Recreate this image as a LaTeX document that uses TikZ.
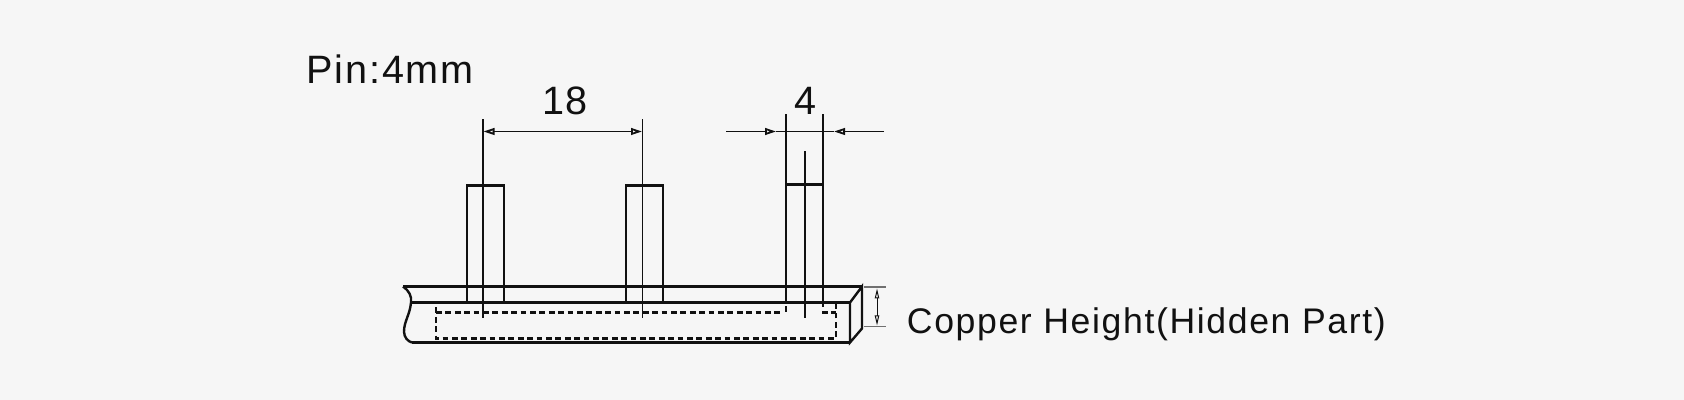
\documentclass[tikz,border=0pt]{standalone}
\usepackage{fontspec}
\setmainfont{Liberation Sans}
\newfontfamily\pinfont[LetterSpace=4.7]{Liberation Sans}
\newfontfamily\capfont[LetterSpace=4.6]{Liberation Sans}
\usetikzlibrary{arrows.meta}
\definecolor{bgc}{HTML}{F6F6F6}
\definecolor{ink}{HTML}{111111}
\tikzset{
  heavy/.style={draw=ink,line width=1.2pt},
  thin line/.style={draw=ink,line width=0.9pt},
  hidden/.style={draw=ink,line width=1.2pt,dash pattern=on 2.9pt off 1.8pt},
  faint/.style={draw=ink!60,line width=0.6pt},
  opentip/.style={-{Stealth[open,length=5.5pt,width=3.4pt,inset=0pt]}},
  bothtips/.style={{Stealth[open,length=5.5pt,width=3.4pt,inset=0pt]}-{Stealth[open,length=5.5pt,width=3.4pt,inset=0pt]}},
  smalltips/.style={{Stealth[open,length=5pt,width=2.2pt,inset=0pt]}-{Stealth[open,length=5pt,width=2.2pt,inset=0pt]}},
  label/.style={inner sep=0pt,anchor=base west,text=ink},
}
\begin{document}
\begin{tikzpicture}[x=0.5pt,y=-0.5pt]
\fill[bgc] (0,0) rectangle (1684,400);
\useasboundingbox (0,0) rectangle (1684,400);
\begin{scope}[shift={(0,0.5)}]
% labels
\node[label] (pin) at (306,83.5) {\fontsize{19.8pt}{24pt}\pinfont Pin:4mm};
\node[label,anchor=base] (d18) at (565,114.5) {\fontsize{19.8pt}{24pt}\selectfont 18};
\node[label,anchor=base] (d4) at (805,114.5) {\fontsize{19.8pt}{24pt}\selectfont 4};
\node[label] (cu) at (906.5,333.5) {\fontsize{17.8pt}{22pt}\capfont Copper Height(Hidden Part)};
% bar
\draw[heavy] (403,286) -- (862,286);
\draw[heavy] (411,302) -- (850,302);
\draw[heavy] (412,342) -- (850,342);
\draw[heavy] (403,286) .. controls (409,290) and (412,296) .. (411,302)
   .. controls (410,314) and (404,321) .. (404,331)
   .. controls (404,337) and (408,341) .. (412,342);
\draw[heavy] (850,302) -- (850,342) -- (862,328) -- (862,286) -- cycle;
% pins
\draw[heavy] (467,302) -- (467,185) -- (504,185) -- (504,302);
\draw[heavy] (626,302) -- (626,185) -- (663,185) -- (663,302);
\draw[heavy] (786,302) -- (786,184) -- (823,184) -- (823,307);
% centre and extension lines
\draw[thin line] (483,119) -- (483,318);
\draw[thin line] (642.5,119) -- (642.5,318);
\draw[thin line] (786,114) -- (786,184);
\draw[thin line] (823,114) -- (823,184);
\draw[thin line] (805,151) -- (805,318);
% dimensions
\draw[thin line,bothtips] (483.5,131) -- (642,131);
\draw[thin line,opentip] (726,131) -- (776,131);
\draw[thin line,opentip] (884,131) -- (834,131);
\draw[thin line] (776,131) -- (834,131);
\draw[faint] (864,286.5) -- (886,286.5);
\draw[faint] (864,326) -- (886,326);
\draw[thin line,smalltips,line width=0.5pt] (877,288) -- (877,325);
% hidden copper
\draw[hidden] (436,307) -- (436,338) -- (836,338) -- (836,303);
\draw[hidden] (436,312) -- (782,312);
\draw[heavy] (786,306) -- (786,312);
\draw[hidden] (822,312) -- (836,312);
\end{scope}
\end{tikzpicture}
\end{document}
